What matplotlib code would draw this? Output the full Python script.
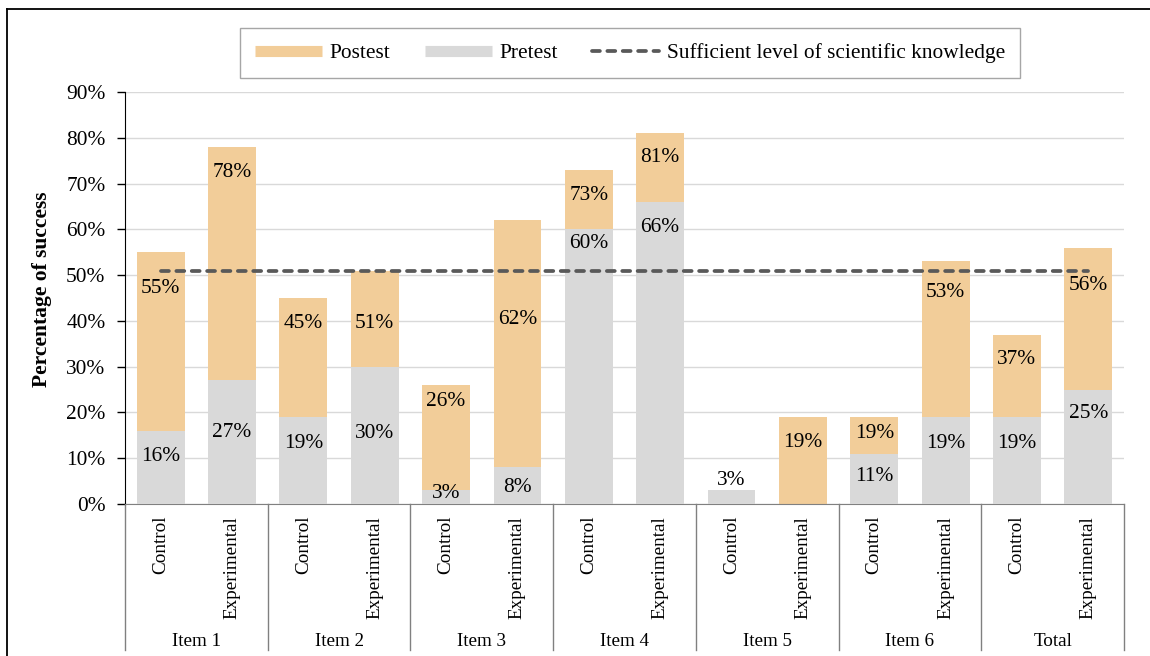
import matplotlib.pyplot as plt
import numpy as np
from matplotlib.lines import Line2D

plt.rcParams["font.family"] = ["Liberation Serif", "DejaVu Serif"]

# ---- data ---------------------------------------------------------------
items = ["Item 1", "Item 2", "Item 3", "Item 4", "Item 5", "Item 6", "Total"]
groups = ["Control", "Experimental"]
posttest = [55, 78, 45, 51, 26, 62, 73, 81, 3, 19, 19, 53, 37, 56]
pretest = [16, 27, 19, 30, 3, 8, 60, 66, 3, 0, 11, 19, 19, 25]
sufficient = 51

# where each value label sits (in % units); None = no label
post_label_y = [47.0, 72.5, 39.5, 39.5, 22.5, 40.2, 67.3, 75.6, None, 13.5, 15.3, 46.3, 31.5, 47.8]
pre_label_y = [10.3, 15.7, 13.3, 15.3, 2.4, 3.7, 56.8, 60.5, 5.2, None, 5.9, 13.3, 13.3, 19.7]

POST = "#F2CD99"
PRE = "#D9D9D9"
LINE = "#595959"
FS = 15.4

fig = plt.figure(figsize=(11.5, 6.56), dpi=100)
ax = fig.add_axes([125 / 1150, 1 - 504 / 656, 999 / 1150, 412 / 656])

x = np.arange(len(posttest))
ax.bar(x, posttest, width=0.67, color=POST, zorder=2)
ax.bar(x, pretest, width=0.67, color=PRE, zorder=3)

for xi, v, ly in zip(x, posttest, post_label_y):
    if ly is not None:
        ax.text(xi, ly, f"{v}%", ha="center", va="center", fontsize=FS, zorder=6)
for xi, v, ly in zip(x, pretest, pre_label_y):
    if ly is not None:
        ax.text(xi, ly, f"{v}%", ha="center", va="center", fontsize=FS, zorder=6)

# threshold line from first to last bar centre
ax.plot([x[0], x[-1]], [sufficient, sufficient], color=LINE, lw=2.7,
        dashes=(2.1, 2.0), dash_capstyle="round", zorder=5)

# ---- axes -----------------------------------------------------------------
ax.set_xlim(-0.5, len(x) - 0.5)
ax.set_ylim(0, 90)
ax.set_yticks(np.arange(0, 91, 10))
ax.set_yticklabels([f"{t}%" for t in range(0, 91, 10)], fontsize=FS)
ax.tick_params(axis="y", length=6, width=1, pad=8, color="black")
ax.set_xticks([])
ax.grid(axis="y", color="#D9D9D9", lw=1, zorder=0)
for s in ["top", "right"]:
    ax.spines[s].set_visible(False)
ax.spines["left"].set_color("black")
ax.spines["bottom"].set_color("#808080")

fig.text(42 / 1150, 1 - 289 / 656, "Percentage of success", rotation=90,
         ha="center", va="center", fontsize=15.5, fontweight="bold")

# category labels below the axis
trans = ax.get_xaxis_transform()
for xi in x:
    ax.text(xi, -12 / 412, groups[xi % 2], rotation=90, ha="center", va="top",
            fontsize=13.8, transform=trans)
for gi, name in enumerate(items):
    ax.text(2 * gi + 0.5, -138 / 412, name, ha="center", va="center",
            fontsize=13.8, transform=trans)
for b in np.arange(0, len(x) + 1, 2) - 0.5:
    ax.add_line(Line2D([b, b], [0, -146 / 412], transform=trans, color="#808080",
                       lw=1, clip_on=False))

# ---- legend ---------------------------------------------------------------
handles = [
    Line2D([], [], color=POST, lw=8, solid_capstyle="butt"),
    Line2D([], [], color=PRE, lw=8, solid_capstyle="butt"),
    Line2D([], [], color=LINE, lw=2.7, dashes=(2.1, 2.0), dash_capstyle="round"),
]
labels = ["Postest", "Pretest", "Sufficient level of scientific knowledge"]
fig.legend(handles, labels, loc="center", bbox_to_anchor=(630 / 1150, 1 - 53 / 656),
           ncol=3, fontsize=FS, handlelength=3.13, handletextpad=0.37,
           columnspacing=1.6, borderpad=0.7, fancybox=False,
           edgecolor="#A6A6A6", framealpha=1)

# outer frame (top and left edges)
fig.add_artist(Line2D([7 / 1150, 1], [1 - 9 / 656] * 2, color="black", lw=1.3))
fig.add_artist(Line2D([7 / 1150] * 2, [0, 1 - 9 / 656], color="black", lw=1.3))

fig.savefig("out.png", dpi=100)
